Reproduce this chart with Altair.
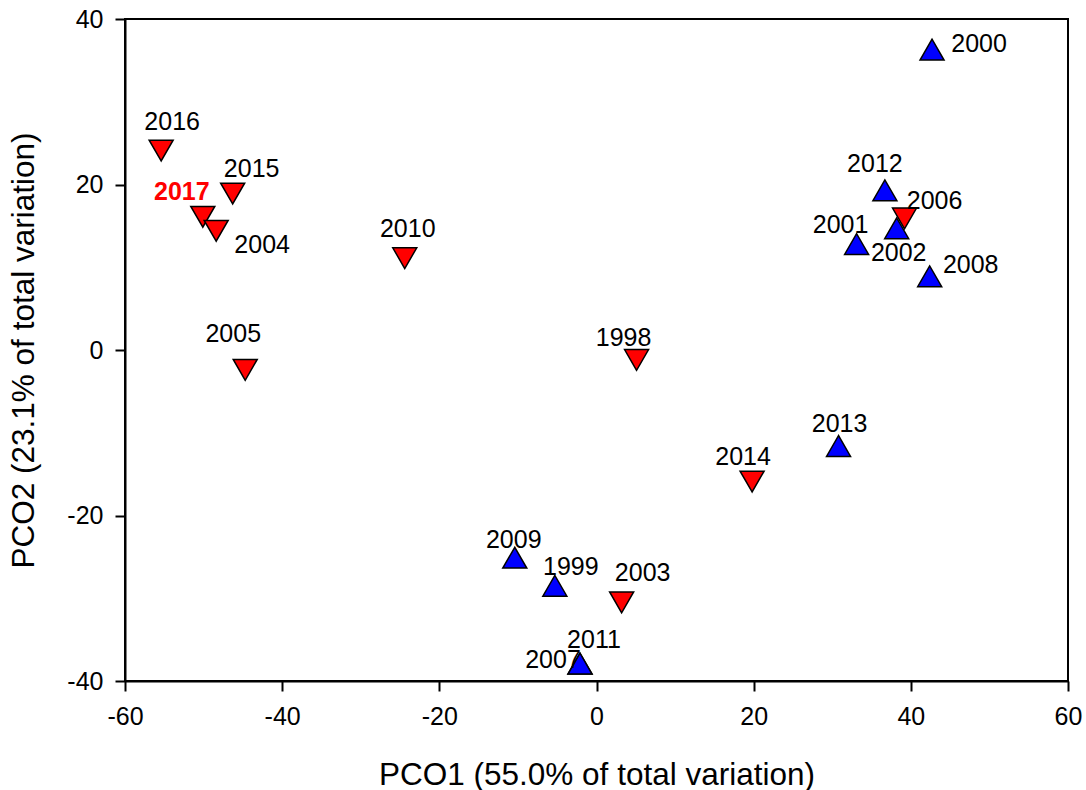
import altair as alt
import pandas as pd

# PCO ordinates per year (scores on the first two principal coordinates)
years = ["2016", "2015", "2017", "2004", "2005", "2010", "1998", "2003", "2014", "2006",
         "2000", "2012", "2002", "2001", "2008", "2013", "2009", "1999", "2007", "2011"]
pco1 = [-55.4, -46.3, -50.1, -48.4, -44.7, -24.4, 5.1, 3.2, 19.8, 39.2,
        42.7, 36.7, 38.2, 33.1, 42.4, 30.8, -10.4, -5.3, -2.1, -2.1]
pco2 = [24.1, 18.9, 16.1, 14.4, -2.4, 11.1, -1.2, -30.5, -15.9, 15.9,
        36.3, 19.3, 14.7, 12.8, 8.9, -11.6, -25.1, -28.5, -37.9, -37.9]
group = ["A"] * 10 + ["B"] * 10
highlight = ["2017"]

# Hand placement of each year label relative to its symbol (pixels)
label_nudge = {
    "2016": (11, -30), "2015": (19, -26), "2017": (-21, -26), "2004": (46, 13),
    "2005": (-12, -37), "2010": (3, -31), "1998": (-13, -23), "2003": (21, -31),
    "2014": (-9, -26), "2006": (30, -19), "2000": (47, -7), "2012": (-10, -27.5),
    "2002": (2, 23), "2001": (-16, -21), "2008": (41, -13), "2013": (1, -23),
    "2009": (-1, -19.5), "1999": (16, -20.5), "2007": (-27, -5.5), "2011": (14, -25.5),
}

df = pd.DataFrame({"year": years, "pco1": pco1, "pco2": pco2, "group": group})

FONT = "Liberation Sans"

x_enc = alt.X(
    "pco1:Q",
    scale=alt.Scale(domain=[-60, 60], nice=False, zero=False),
    axis=alt.Axis(
        values=list(range(-60, 61, 20)),
        labelExpr="datum.value + ''",
        title="PCO1 (55.0% of total variation)",
        titleY=103,
        titleBaseline="alphabetic",
        labelPadding=13,
    ),
)
y_enc = alt.Y(
    "pco2:Q",
    scale=alt.Scale(domain=[-40, 40], nice=False, zero=False),
    axis=alt.Axis(
        values=list(range(-40, 41, 20)),
        labelExpr="datum.value + ''",
        title="PCO2 (23.1% of total variation)",
        titleX=-91.5,
        titleY=331,
        titleAngle=270,
        titleAlign="center",
        titleBaseline="alphabetic",
        labelPadding=12,
    ),
)

base = alt.Chart(df)

points = base.mark_point(
    filled=True, size=576, stroke="black", strokeWidth=1.5, opacity=1, fillOpacity=1
).encode(
    x=x_enc,
    y=y_enc,
    shape=alt.Shape("group:N", scale=alt.Scale(domain=["A", "B"], range=["triangle-down", "triangle-up"]), legend=None),
    fill=alt.Fill("group:N", scale=alt.Scale(domain=["A", "B"], range=["#FF0000", "#0000FF"]), legend=None),
)

# One text layer per year so each label can sit where it reads best
label_layers = []
for yr in years:
    dx, dy = label_nudge[yr]
    style = dict(font=FONT, fontSize=25, align="center", baseline="middle", dx=dx, dy=dy + 1.5)
    if yr in highlight:
        style.update(fontWeight="bold", color="#FF0000")
    else:
        style.update(color="black")
    label_layers.append(
        base.mark_text(**style)
        .encode(x=x_enc, y=y_enc, text="year:N")
        .transform_filter(alt.datum.year == yr)
    )

chart = (
    alt.layer(points, *label_layers)
    .properties(
        width=943,
        height=662,
        autosize=alt.AutoSizeParams(type="none"),
        padding={"left": 125, "top": 19, "right": 18, "bottom": 109},
        background="white",
    )
    .configure_view(stroke="black", strokeWidth=2)
    .configure_axis(
        grid=False,
        domainColor="black",
        domainWidth=2,
        tickColor="black",
        tickWidth=2,
        tickSize=10,
        labelFont=FONT,
        labelFontSize=25,
        labelColor="black",
        labelFlush=False,
        labelOverlap=False,
        titleFont=FONT,
        titleFontSize=31.5,
        titleFontWeight="normal",
        titleColor="black",
    )
)

chart.save("out.html", embed_options={"renderer": "svg", "actions": False})
